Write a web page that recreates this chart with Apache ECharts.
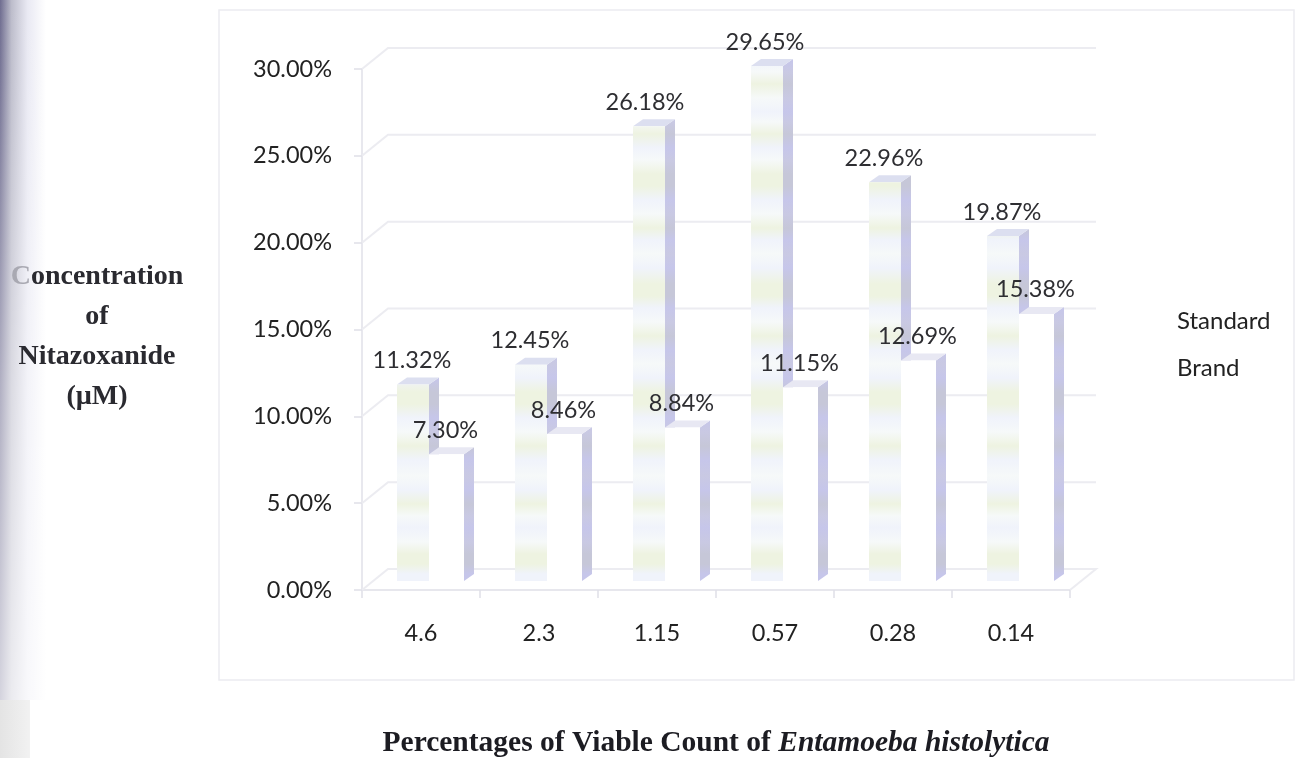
<!DOCTYPE html>
<html>
<head>
<meta charset="utf-8">
<style>html,body{margin:0;padding:0;background:#fff}#chart{width:1299px;height:758px}</style>
<script src="https://cdn.jsdelivr.net/npm/echarts@6/dist/echarts.min.js"></script>
</head>
<body>
<div id="chart"></div>
<script>
// Viability by nitazoxanide concentration, drawn as pseudo-3D paired columns.
const concentrations = ['4.6', '2.3', '1.15', '0.57', '0.28', '0.14'];
const standardValues = [11.32, 12.45, 26.18, 29.65, 22.96, 19.87];
const brandValues = [7.30, 8.46, 8.84, 11.15, 12.69, 15.38];
const yTicks = [0, 5, 10, 15, 20, 25, 30];

// Depth of the box and of the columns inside it, in pixels.
const WALL = { dx: 26, dy: -21 };
const COL = { dx: 8, dy: -9, skewX: 10, skewY: -7, widths: [32, 35] };
const labelNudge = [[-1, -1, -4, -2, -1, -1], [-1, -1, -1, -1, -1, -1]];

const GREEN = '#eef3e1', BLUE = '#f0f3fb', PALE = '#f6f9f9';
const bandStops = [
  [60, BLUE], [72, PALE], [84, GREEN], [98, PALE], [112, BLUE], [122, PALE], [134, GREEN], [148, BLUE],
  [160, PALE], [174, GREEN], [186, GREEN], [200, BLUE], [214, PALE], [228, GREEN], [240, BLUE], [254, PALE],
  [268, BLUE], [284, GREEN], [296, GREEN], [308, BLUE], [322, PALE], [336, GREEN], [350, BLUE], [364, PALE],
  [378, BLUE], [392, GREEN], [404, GREEN], [418, BLUE], [432, PALE], [446, GREEN], [460, BLUE], [476, PALE],
  [490, BLUE], [504, GREEN], [516, PALE], [528, BLUE], [542, PALE], [554, GREEN], [564, GREEN], [574, BLUE], [590, BLUE]
];
const toGlobalGradient = stops => ({
  type: 'linear', x: 0, y: 60, x2: 0, y2: 590, global: true,
  colorStops: stops.map(([y, color]) => ({ offset: (y - 60) / 530, color }))
});
const stripes = toGlobalGradient(bandStops);
const sideBands = toGlobalGradient(bandStops.map(([y, c]) => [y, c === GREEN ? '#c6c7d8' : c === BLUE ? '#c6c6ea' : '#c9c9e3']));

function column(side, faceFill) {
  return function (params, api) {
    const i = api.value(0), v = api.value(1);
    const centre = api.coord([i, v]);
    const base = api.coord([i, 0]);
    const width = COL.widths[side];
    const left = centre[0] + COL.dx + (side === 0 ? -width : 0);
    const right = left + width;
    const top = centre[1] + COL.dy;
    const bottom = base[1] + COL.dy;
    return {
      type: 'group',
      children: [
        { type: 'polygon', shape: { points: [[right, top], [right + COL.skewX, top + COL.skewY], [right + COL.skewX, bottom + COL.skewY], [right, bottom]] },
          style: { fill: sideBands } },
        { type: 'polygon', shape: { points: [[left, top], [left + COL.skewX, top + COL.skewY], [right + COL.skewX, top + COL.skewY], [right, top]] },
          style: { fill: side === 0 ? '#dcdff0' : '#e8e8f3' } },
        { type: 'rect', shape: { x: left, y: top, width, height: bottom - top },
          style: { fill: faceFill } },
        { type: 'text', x: (left + right) / 2 + labelNudge[side][i], y: top - 24, z2: 50,
          style: { text: v.toFixed(2) + '%', fill: '#2e2e32', font: '23.5px Lato', align: 'center', verticalAlign: 'middle' } }
      ]
    };
  };
}

const option = {
  backgroundColor: '#ffffff',
  animation: false,
  graphic: [
    // Dark scanned edge along the left of the page, paling towards the bottom.
    { type: 'rect', z: -10, shape: { x: 0, y: 0, width: 46, height: 700 },
      style: { fill: { type: 'linear', x: 0, y: 0, x2: 1, y2: 0, colorStops: [
        { offset: 0, color: '#6f6d90' }, { offset: 0.25, color: '#bdbdcb' }, { offset: 0.6, color: '#e9e9f3' }, { offset: 1, color: '#ffffff' }] } } },
    { type: 'rect', z: -9, shape: { x: 0, y: 0, width: 46, height: 700 },
      style: { fill: { type: 'linear', x: 0, y: 0, x2: 0, y2: 1, colorStops: [
        { offset: 0, color: 'rgba(255,255,255,0)' }, { offset: 0.1, color: 'rgba(255,255,255,0.05)' }, { offset: 0.55, color: 'rgba(255,255,255,0.45)' }, { offset: 1, color: 'rgba(255,255,255,0.7)' }] } } },
    { type: 'rect', z: -9, shape: { x: 0, y: 700, width: 30, height: 58 },
      style: { fill: { type: 'linear', x: 0, y: 0, x2: 1, y2: 0, colorStops: [{ offset: 0, color: '#e4e4e4' }, { offset: 1, color: '#f2f2f2' }] } } },
    { type: 'rect', z: -8, shape: { x: 219, y: 10, width: 1075, height: 670 },
      style: { fill: 'none', stroke: '#ececf1', lineWidth: 1.5 } }
  ],
  legend: {
    orient: 'vertical', left: 1167, top: 304, itemGap: 23, itemWidth: 0, itemHeight: 0, icon: 'rect',
    selectedMode: false, data: ['Standard', 'Brand'],
    textStyle: { fontFamily: 'Lato', fontSize: 24, color: '#222' }
  },
  grid: { left: 362, right: 229, top: 69, bottom: 168, outerBoundsMode: 'none' },
  xAxis: {
    type: 'category', data: concentrations,
    axisLine: { lineStyle: { color: '#e0e0e8', width: 1.5 } },
    axisTick: { show: true, length: 8, lineStyle: { color: '#e0e0e8', width: 1.5 } },
    axisLabel: { margin: 31, fontFamily: 'Lato', fontSize: 23.5, color: '#222' },
    name: '{b|Percentages of Viable Count of }{i|Entamoeba histolytica}',
    nameLocation: 'middle', nameGap: 138,
    nameTextStyle: { rich: {
      b: { fontFamily: 'Liberation Serif', fontWeight: 'bold', fontSize: 29.5, color: '#1c1c22' },
      i: { fontFamily: 'Liberation Serif', fontWeight: 'bold', fontStyle: 'italic', fontSize: 29.5, color: '#1c1c22' }
    } }
  },
  yAxis: {
    type: 'value', min: 0, max: 30, interval: 5,
    axisLine: { show: true, lineStyle: { color: '#e0e0e8', width: 1.5 } },
    axisTick: { show: true, length: 8, lineStyle: { color: '#e0e0e8', width: 1.5 } },
    splitLine: { show: false },
    axisLabel: { margin: 30, padding: [4, 0, 0, 0], fontFamily: 'Lato', fontSize: 23.5, color: '#222', formatter: v => v.toFixed(2) + '%' },
    name: '{f|C}{n|oncentration}\n{n|of}\n{n|Nitazoxanide}\n{n|(µM)}',
    nameLocation: 'middle', nameRotate: 0, nameGap: 265,
    nameTextStyle: { align: 'center', padding: [14, 0, 0, 0], rich: {
      n: { fontFamily: 'Liberation Serif', fontWeight: 'bold', fontSize: 28, lineHeight: 40, color: '#2a2a30' },
      f: { fontFamily: 'Liberation Serif', fontWeight: 'bold', fontSize: 28, lineHeight: 40, color: '#a9a9b2' }
    } }
  },
  series: [
    {
      // Back wall gridlines with their diagonal returns on the side wall.
      type: 'custom', silent: true, z: 1, data: yTicks.map(v => [v]), encode: { x: [], y: 0 },
      renderItem(params, api) {
        const v = api.value(0);
        const a = api.coord([0, v]);
        const xStart = params.coordSys.x, xEnd = xStart + params.coordSys.width;
        const back = [[xStart, a[1]], [xStart + WALL.dx, a[1] + WALL.dy], [xEnd + WALL.dx, a[1] + WALL.dy]];
        if (v === 0) back.push([xEnd, a[1]]);
        return { type: 'polyline', shape: { points: back }, style: { fill: 'none', stroke: '#ececf1', lineWidth: 2 } };
      }
    },
    {
      name: 'Standard', type: 'custom', z: 3, itemStyle: { color: 'transparent' },
      data: standardValues.map((v, i) => [i, v]), encode: { x: 0, y: 1 },
      renderItem: column(0, stripes)
    },
    {
      name: 'Brand', type: 'custom', z: 4, itemStyle: { color: 'transparent' },
      data: brandValues.map((v, i) => [i, v]), encode: { x: 0, y: 1 },
      renderItem: column(1, '#ffffff')
    }
  ]
};

echarts.init(document.getElementById('chart'), null, { renderer: 'canvas' }).setOption(option);
</script>
</body>
</html>
